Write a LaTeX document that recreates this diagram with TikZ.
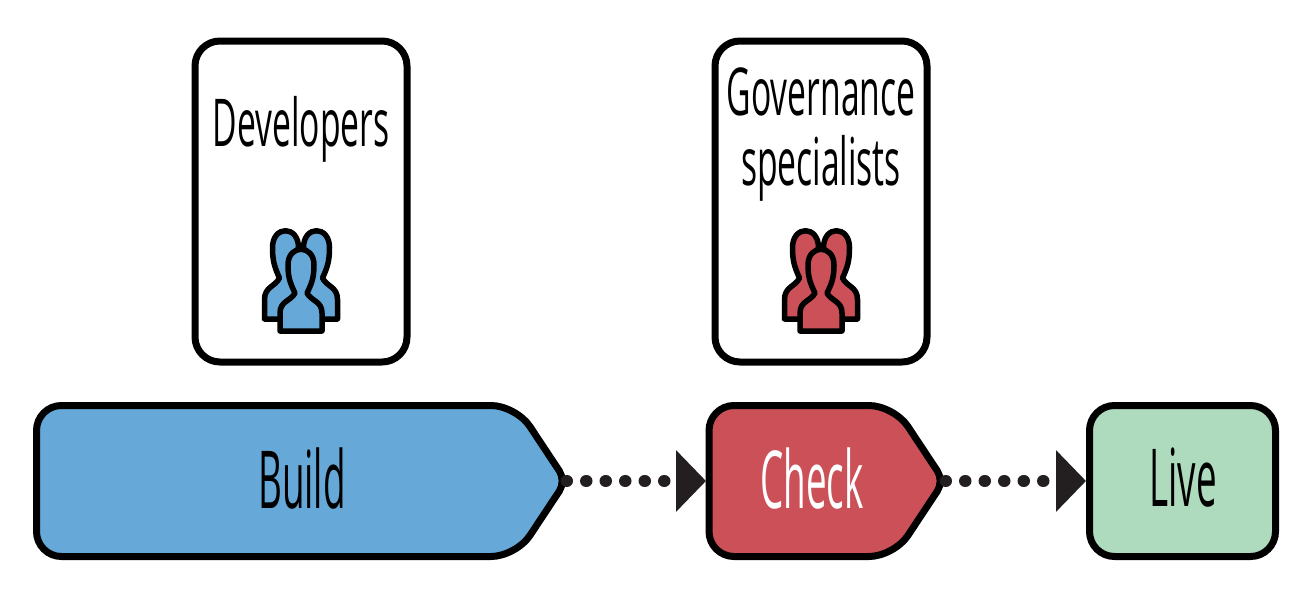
\documentclass[tikz,border=0pt]{standalone}
\usepackage{fontspec}
\newfontfamily\crewfont[FakeStretch=0.51]{Open Sans}
\newfontfamily\stagefont[FakeStretch=0.46]{Open Sans}
\usetikzlibrary{arrows.meta,positioning}
\definecolor{buildblue}{HTML}{66A9D8}
\definecolor{checkred}{HTML}{CB5058}
\definecolor{livegreen}{HTML}{AEDBBE}
\definecolor{linkgrey}{HTML}{231F20}

\begin{document}
\begin{tikzpicture}[x=1pt, y=-1pt]
\tikzset{
crew/.style       = {draw=black, line width=7pt, fill=white, shape=rectangle, rounded corners=25pt, minimum width=212pt, minimum height=321pt},
crewlabel/.style  = {font=\crewfont\fontsize{66}{70}\selectfont, align=center, text=black},
stagelabel/.style = {font=\stagefont\fontsize{80}{80}\selectfont, text=black},
stage/.style      = {draw=black, line width=7pt},
link/.style       = {linkgrey, line width=12pt, line cap=round, dash pattern=on 0.5pt off 19pt, dash phase=15pt, -{Triangle[length=30pt,width=60pt]}},
person/.pic       = {\path [pic actions] (-21,0) -- (-21,-18) .. controls (-21,-30) and (-10,-30) .. (-6,-38) .. controls (-11,-48) and (-13,-54) .. (-13,-66) .. controls (-13,-87) and (13,-87) .. (13,-66) .. controls (13,-54) and (11,-48) .. (6,-38) .. controls (10,-30) and (21,-30) .. (21,-18) -- (21,0) -- cycle;},
people/.pic       = {
    \pic [draw=black, line width=5.5pt, line join=round, fill=#1, yscale=1.08] at (-15.5,-12) {person};
    \pic [draw=black, line width=5.5pt, line join=round, fill=#1, yscale=1.08] at (15.5,-12) {person};
    \pic [draw=black, line width=5.5pt, line join=round, fill=#1] at (0,0) {person};
},
}
    \useasboundingbox (0,0) rectangle (1314,589);

    % Crew boxes
    \node [crew]        (developers)    at (301,201.5)  {};
    \node [crew]        (governance)    at (821,201.5)  {};
    \node [crewlabel]   (devtext)       at (301,129)    {Developers};
    \node [crewlabel]   (govtext)       at (821,135)    {Governance\\specialists};
    \pic at (301,331) {people=buildblue};
    \pic at (821,331) {people=checkred};

    % Stages
    \draw [stage, fill=buildblue] (36.5,481) [rounded corners=25pt] -- (36.5,405.5) -- (516,405.5) [rounded corners=12pt] -- (566,481) [rounded corners=25pt] -- (516,556.5) -- (36.5,556.5) -- cycle;
    \draw [stage, fill=checkred] (709,481) [rounded corners=25pt] -- (709,405.5) -- (894,405.5) [rounded corners=12pt] -- (944,481) [rounded corners=25pt] -- (894,556.5) -- (709,556.5) -- cycle;
    \coordinate (buildtip)  at (562,481);
    \coordinate (checkin)   at (706,481);
    \coordinate (checktip)  at (941,481);
    \node [stage, fill=livegreen, rounded corners=25pt, minimum width=186pt, minimum height=151pt] (live) at (1182.5,481) {};
    \node [stagelabel]              (buildtext) at (302,478)    {Build};
    \node [stagelabel, text=white]  (checktext) at (812,478)    {Check};
    \node [stagelabel]              (livetext)  at (1183,478)   {Live};

    % Links
    \draw [link] (buildtip) -- (checkin);
    \draw [link] (checktip) -- (live.west);

\end{tikzpicture}
\end{document}
